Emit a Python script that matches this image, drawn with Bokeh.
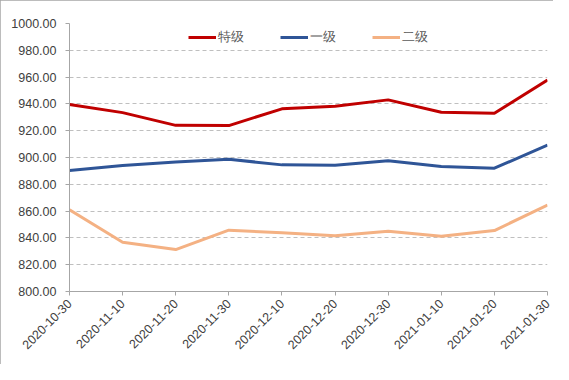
from bokeh.plotting import figure
from bokeh.models import FixedTicker, NumeralTickFormatter, Range1d, Legend, LegendItem
from bokeh.embed import file_html
from bokeh.resources import INLINE
import math

dates = ["2020-10-30", "2020-11-10", "2020-11-20", "2020-11-30", "2020-12-10",
         "2020-12-20", "2020-12-30", "2021-01-10", "2021-01-20", "2021-01-30"]
special = [939.6, 933.5, 924.0, 923.8, 936.3, 938.3, 943.0, 933.8, 933.0, 957.8]
grade1 = [890.3, 894.0, 896.6, 898.7, 894.5, 894.3, 897.5, 893.3, 892.0, 909.3]
grade2 = [861.0, 836.8, 831.3, 845.8, 843.8, 841.6, 845.0, 841.3, 845.5, 864.5]
names = ["特级", "一级", "二级"]
colors = ["#C00000", "#2F5597", "#F4B183"]

xs = list(range(len(dates)))

p = figure(width=553, height=364, output_backend="svg", toolbar_location=None,
           x_range=Range1d(0, len(dates) - 1), y_range=Range1d(800, 1000),
           min_border_left=69, min_border_right=6, min_border_top=23, min_border_bottom=73)
p.outline_line_color = None
p.background_fill_color = "white"
p.border_fill_color = "white"
p.styles = {"outline": "1px solid #a6a6a6", "outline-offset": "-1px"}

font = "Liberation Sans"
items = []
for ys, nm, c in zip([special, grade1, grade2], names, colors):
    r = p.line(xs, ys, line_color=c, line_width=3)
    items.append(LegendItem(label=nm, renderers=[r]))

p.xaxis.ticker = FixedTicker(ticks=xs)
p.xaxis.major_label_overrides = {i: d for i, d in zip(xs, dates)}
p.xaxis.major_label_orientation = math.pi / 4
p.yaxis.ticker = FixedTicker(ticks=list(range(800, 1001, 20)))
p.yaxis.formatter = NumeralTickFormatter(format="0.00")

for ax in [p.xaxis[0], p.yaxis[0]]:
    ax.axis_line_color = "#a6a6a6"
    ax.major_tick_line_color = "#a6a6a6"
    ax.major_tick_in = 0
    ax.major_tick_out = 4
    ax.minor_tick_line_color = None
    ax.major_label_text_font = font
    ax.major_label_text_font_size = "12.5px"
    ax.major_label_text_color = "#404040"
p.yaxis.major_label_standoff = 9
p.xaxis.major_label_standoff = 6

p.xgrid.grid_line_color = None
p.ygrid.grid_line_color = "#bfbfbf"
p.ygrid.grid_line_dash = "4 3"

legend = Legend(items=items, orientation="horizontal", location="top_center",
                border_line_color=None, background_fill_alpha=0,
                label_text_font=font, label_text_font_size="13px",
                label_text_color="#595959", glyph_width=28, spacing=36,
                margin=4, padding=2, label_standoff=2)
p.add_layout(legend, "center")

open("out.html", "w").write(file_html(p, INLINE))
